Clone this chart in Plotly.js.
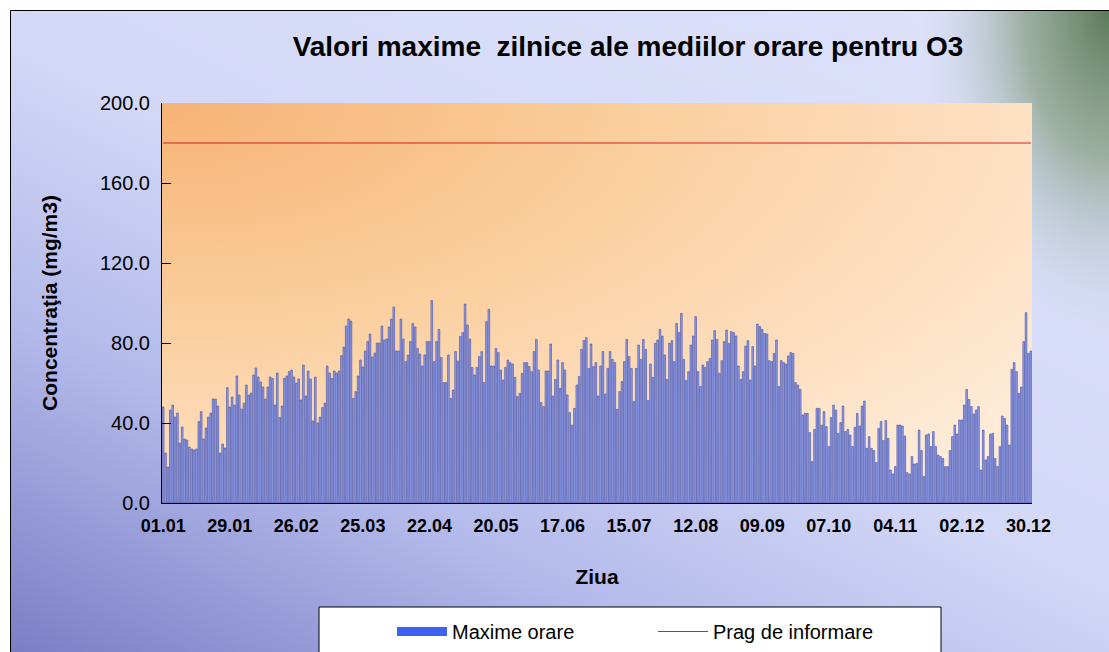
<!DOCTYPE html>
<html>
<head>
<meta charset="utf-8">
<script src="https://cdn.plot.ly/plotly-3.0.1.min.js"></script>
<style>html,body{margin:0;padding:0;background:#fff;}#chart{width:1109px;height:652px;}</style>
</head>
<body>
<div id="chart"></div>
<script>
// ---- data (daily maximum of hourly averages, O3) ----
const maxSeg1 = [48,25,18,46.5,49,43,45,30,38,32,31.5,28,27,26.5,27,40.7,45.7,32,37.5,43,45,52,52,48.5,25,29.5,27.5,57.7,48,53,49,63.5,54,47,50,59,54,55,64,67.5,63,60.5,58,52,58,63];
const maxSeg2 = [62.3,49,65,42.7,48.5,62.3,63.5,65.7,66.5,63,60,62,51.5,69,53.5,66,62,41,63,40,43,47.7,50,68.5,65,62.3,66,65,66,73.7,78,88.5,92,91,52.3,55.7,63.5,71.5,68,76,80.7,84.5,73,75,80];
const maxSeg3 = [80,88.5,81.5,82,88,92,98,76,76,92,82,70.7,74,80.7,89.8,88,77.3,74.5,68.5,74,80.7,80.7,101.2,70.7,80.7,86.8,72.7,60.2,60.2,74,52.3,56.5,75.7,71,83.2,85.2,99.5,89,82,67.7,64,67.8,73.2,75.7,60.2,90.7];
const maxSeg4 = [96.8,68.5,68.5,77.3,75.2,66.5,61.5,67.8,71.5,70.2,69.5,62.8,53.2,54.8,64.8,70.2,70.2,68.2,65.7,75.7,81.8,66.5,50.2,48.2,66,66,79.5,53.5,61.8,71.5,57.3,70.2,66.5,54,45.2,39,47.3,59,63.2,76.8,81.2,82.7,67.3,79.5,68.2,70.2];
const maxSeg5 = [53.5,68.5,75.7,54.5,67.3,75.7,71.8,70.2,46.8,55.7,60.7,70.7,81.8,73.2,67.3,50.7,67.3,79,71.8,81.8,76.8,51.2,69.5,62.8,79.8,81.5,86.8,83.5,74,61.8,79.8,81.2,70.7,89.8,85.2,94.8,71.8,61.2,65.7,79,83.5,93.2,65.7,58.2,69,67.8,70.7];
const maxSeg6 = [72.3,81.5,86.2,81.8,64.8,71.2,80.7,86.5,79.8,85.7,85.2,83.5,68.5,61.8,65.7,78.5,81.2,61.5,78.2,68.5,89.5,88.2,86.8,84.8,84.5,71.2,70.7,74.8,81.5,58.2,71.2,70.2,69.5,73.5,75.2,74.8,60.2,59,56.8,44,44.8,44.8,35.2,20.7,36.8,47.3,47.3];
const maxSeg7 = [39,45.7,38.2,28.2,42.7,49,46.5,34.8,40.2,48.5,35.7,36.8,34,28.2,37.8,44.8,38.5,48.5,51,27.3,33.2,27.3,26.2,20.2,37.3,40.7,31.2,41.2,32.3,16.5,14.5,18.2,39,39,38.5,33.5,15.2,14.5,23.2,19.5,19.8,36.5,26.2,13.2,34,34.5,28.2];
const maxSeg8 = [35.7,28.2,24,23.2,22.3,18.2,18.2,26.2,33.2,39,34.5,41.5,41.5,49,56.8,51.8,48.2,44.5,46.5,48.2,16.5,36.5,21.5,23.2,34.5,34.8,22.3,18.2,28.2,43.5,42.3,39,29,66.8,70.2,65.7,54.8,58,80.7,95.2,74.8,76];
const pragInformare = 180;
const tickLabels = ['01.01','29.01','26.02','25.03','22.04','20.05','17.06','15.07','12.08','09.09','07.10','04.11','02.12','30.12'];
const chartYear = 2008;

// ---- categories (every day of the year, dd.mm) ----
const days = [];
for (let d = new Date(Date.UTC(chartYear,0,1)); d.getUTCFullYear() === chartYear; d = new Date(d.getTime() + 86400000)) {
  days.push(String(d.getUTCDate()).padStart(2,'0') + '.' + String(d.getUTCMonth()+1).padStart(2,'0'));
}
const maxime = [].concat(maxSeg1,maxSeg2,maxSeg3,maxSeg4,maxSeg5,maxSeg6,maxSeg7,maxSeg8);
const prag = days.map(() => pragInformare);

const FONT = 'Liberation Sans, Arial, sans-serif';

function svgUri(s){ return 'data:image/svg+xml;charset=utf-8,' + encodeURIComponent(s); }
const figBg = svgUri(
 "<svg xmlns='http://www.w3.org/2000/svg' width='1099' height='642' viewBox='0 0 1099 642' preserveAspectRatio='none'>" +
 "<defs><linearGradient id='g' x1='0' y1='1' x2='0.85' y2='0'>" +
 "<stop offset='0' stop-color='#7a7fc5'/><stop offset='0.3' stop-color='#b3b9ea'/>" +
 "<stop offset='0.55' stop-color='#d3d8f7'/><stop offset='1' stop-color='#dde1fa'/></linearGradient>" +
 "<radialGradient id='r' gradientUnits='userSpaceOnUse' cx='0' cy='0' r='1' gradientTransform='translate(1099,0) scale(190,330)'>" +
 "<stop offset='0' stop-color='#5b7b58' stop-opacity='1'/><stop offset='0.45' stop-color='#87a085' stop-opacity='0.75'/>" +
 "<stop offset='1' stop-color='#c8d2e4' stop-opacity='0'/></radialGradient></defs>" +
 "<rect width='1099' height='642' fill='url(#g)'/><rect width='1099' height='642' fill='url(#r)'/></svg>");
const plotBg = svgUri(
 "<svg xmlns='http://www.w3.org/2000/svg' width='870' height='400' viewBox='0 0 870 400' preserveAspectRatio='none'>" +
 "<defs><radialGradient id='p' cx='0' cy='0' r='1.25'>" +
 "<stop offset='0' stop-color='#f6b375'/><stop offset='0.45' stop-color='#fbcf9f'/>" +
 "<stop offset='1' stop-color='#feebd8'/></radialGradient></defs>" +
 "<rect width='870' height='400' fill='url(#p)'/></svg>");

const W = 1109, H = 652, L = 162, R = 77, T = 103, B = 149;
const pw = W - L - R, ph = H - T - B;
const px = v => (v - L) / pw;       // pixel -> paper x
const py = v => (H - B - v) / ph;   // pixel -> paper y

const traces = [
  {type:'bar', x: days, y: maxime, name:'Maxime orare', showlegend:false,
   marker:{color:'#98a2e4', line:{color:'#3a4cb0', width:0.6}}, hoverinfo:'x+y'},
  {type:'scatter', mode:'lines', x:[null], y:[null], name:'Maxime orare',
   line:{color:'#3d62f2', width:9}, hoverinfo:'skip'},
  {type:'scatter', mode:'lines', x: days, y: prag, name:'Prag de informare',
   line:{color:'#dc1f1f', width:1.2}, hoverinfo:'skip'}
];

const layout = {
  width: W, height: H,
  margin:{l:L, r:R, t:T, b:B, autoexpand:false},
  paper_bgcolor:'#ffffff', plot_bgcolor:'rgba(0,0,0,0)',
  bargap: 0.3,
  font:{family:FONT, color:'#000'},
  title:{text:'Valori maxime\u00a0 zilnice ale mediilor orare pentru O3', xref:'container', yref:'container',
         x: 628/W, y: 1 - 46/H, xanchor:'center', yanchor:'middle',
         font:{family:FONT, size:28, weight:'bold', color:'#000'}},
  xaxis:{type:'category', range:[-0.5, days.length - 0.5], tickmode:'array', tickvals: tickLabels, ticktext: tickLabels,
         ticks:'', showgrid:false, zeroline:false, showline:true, linecolor:'#000', linewidth:1,
         tickangle:0, tickfont:{family:FONT, size:18, weight:'bold'}, ticklabelstandoff:6,
         title:{text:'Ziua', font:{family:FONT, size:21, weight:'bold'}, standoff:34}, automargin:false, fixedrange:true},
  yaxis:{range:[0,200], dtick:40, tick0:0, tickformat:'.1f', ticks:'inside', ticklen:9, tickcolor:'#000',
         showgrid:false, zeroline:false, showline:true, linecolor:'#000', linewidth:1,
         tickfont:{family:FONT, size:20}, ticklabelstandoff:7,
         title:{text:'Concentraţia (mg/m3)', font:{family:FONT, size:21, weight:'bold'}, standoff:36}, automargin:false, fixedrange:true},
  legend:{orientation:'h', x: px(392), y: py(612), xanchor:'left', yanchor:'top', bgcolor:'rgba(0,0,0,0)',
          font:{family:FONT, size:20}, entrywidth:196, itemwidth:50, traceorder:'normal'},
  images:[
    {source: figBg, xref:'paper', yref:'paper', x: px(10), y: py(10), sizex: (W-10)/pw, sizey: (H-10)/ph,
     xanchor:'left', yanchor:'top', sizing:'stretch', layer:'below'},
    {source: plotBg, xref:'paper', yref:'paper', x: 0, y: 1, sizex: 1, sizey: 1,
     xanchor:'left', yanchor:'top', sizing:'stretch', layer:'below'}
  ],
  shapes:[
    {type:'rect', xref:'paper', yref:'paper', x0: px(10.5), x1: px(W+20), y0: py(H+20), y1: py(10.5),
     line:{color:'#000', width:1}, fillcolor:'rgba(0,0,0,0)', layer:'below'},
    {type:'rect', xref:'paper', yref:'paper', x0: px(319), x1: px(941), y0: py(H+20), y1: py(607),
     line:{color:'#000', width:1}, fillcolor:'#ffffff', layer:'below'}
  ]
};

Plotly.newPlot('chart', traces, layout, {displayModeBar:false, staticPlot:true});
</script>
</body>
</html>
